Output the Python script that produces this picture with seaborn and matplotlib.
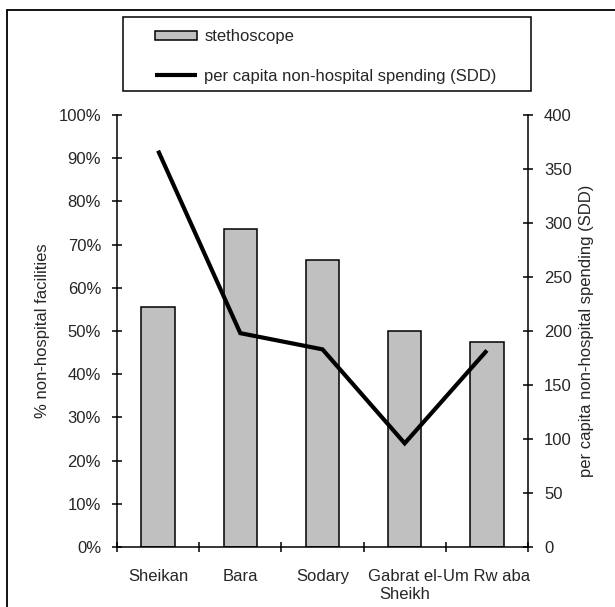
import matplotlib
matplotlib.use("Agg")
import matplotlib.pyplot as plt
from matplotlib.patches import Rectangle, Patch
from matplotlib.lines import Line2D
from matplotlib.ticker import FuncFormatter, FixedLocator
import seaborn as sns
import pandas as pd

districts = ["Sheikan", "Bara", "Sodary", "Gabrat el-\nSheikh", "Um Rw aba"]
stethoscope_pct = [55.5, 73.7, 66.5, 50.0, 47.5]
spending_sdd = [367, 198, 183, 96, 182]

left_ticks = list(range(0, 101, 10))
right_ticks = list(range(0, 401, 50))

sns.set_style("white")
plt.rcParams["font.family"] = ["Liberation Sans", "DejaVu Sans"]
plt.rcParams["font.size"] = 12

df = pd.DataFrame({"district": districts,
                   "stethoscope": stethoscope_pct,
                   "spending": spending_sdd})

W, H = 615, 607
fig = plt.figure(figsize=(W / 100, H / 100), dpi=100)
ax = fig.add_axes([117 / W, 60 / H, 411 / W, 432 / H])

sns.barplot(data=df, x="district", y="stethoscope", ax=ax,
            color="#c0c0c0", saturation=1, width=0.405,
            edgecolor="black", linewidth=1.1)

ax2 = ax.twinx()
sns.lineplot(data=df, x="district", y="spending", ax=ax2,
             color="black", lw=3.0, sort=False)
ax2.lines[0].set_solid_capstyle("butt")
ax2.lines[0].set_solid_joinstyle("miter")

n = len(districts)
ax.set_xlim(-0.5, n - 0.5)
ax.set_ylim(0, 100)
ax2.set_ylim(0, 400)

# category boundaries get tick marks, centres carry the labels
ax.xaxis.set_major_locator(FixedLocator([i - 0.5 for i in range(n + 1)]))
ax.xaxis.set_minor_locator(FixedLocator(list(range(n))))
ax.set_xticklabels([""] * (n + 1))
ax.set_xticklabels(districts, minor=True)
ax.tick_params(axis="x", which="major", direction="inout", length=7,
               width=1.1, color="black", bottom=True)
ax.tick_params(axis="x", which="minor", length=0, pad=16, labelsize=12)

ax.set_yticks(left_ticks)
ax.yaxis.set_major_formatter(FuncFormatter(lambda v, p: f"{int(v)}%"))
ax.tick_params(axis="y", direction="inout", length=7, width=1.1,
               color="black", left=True, pad=8, labelsize=12)
ax2.set_yticks(right_ticks)
ax2.tick_params(axis="y", direction="inout", length=7, width=1.1,
                color="black", right=True, pad=8, labelsize=12)

for a in (ax, ax2):
    a.spines["top"].set_visible(False)
    for s in ("left", "right", "bottom"):
        a.spines[s].set_color("black")
        a.spines[s].set_linewidth(1.1)
ax2.spines["left"].set_visible(False)
ax2.spines["bottom"].set_visible(False)
ax.spines["right"].set_visible(False)

ax.set_xlabel("")
ax.set_ylabel("% non-hospital facilities", fontsize=12, labelpad=6)
ax2.set_ylabel("per capita non-hospital spending (SDD)", fontsize=12,
               labelpad=5)

# outer frame of the figure
fig.patches.append(Rectangle((7 / W, -0.05), 1.1, 1 - 10 / H + 0.05,
                             transform=fig.transFigure, fill=False,
                             edgecolor="black", linewidth=1.3, zorder=0))
# legend frame
fig.patches.append(Rectangle((123 / W, 1 - 91 / H), 408 / W, 74 / H,
                             transform=fig.transFigure, fill=False,
                             edgecolor="black", linewidth=1.1, zorder=1))

handles = [Patch(facecolor="#c0c0c0", edgecolor="black", linewidth=1.1),
           Line2D([], [], color="black", lw=3.0, solid_capstyle="butt")]
fig.legend(handles, ["stethoscope", "per capita non-hospital spending (SDD)"],
           loc="upper left", bbox_to_anchor=(142 / W, 1 - 16 / H),
           frameon=False, fontsize=12, handlelength=2.5, handleheight=0.45,
           handletextpad=0.45, labelspacing=1.45, borderpad=0.3)

fig.savefig("out.png", dpi=100)
